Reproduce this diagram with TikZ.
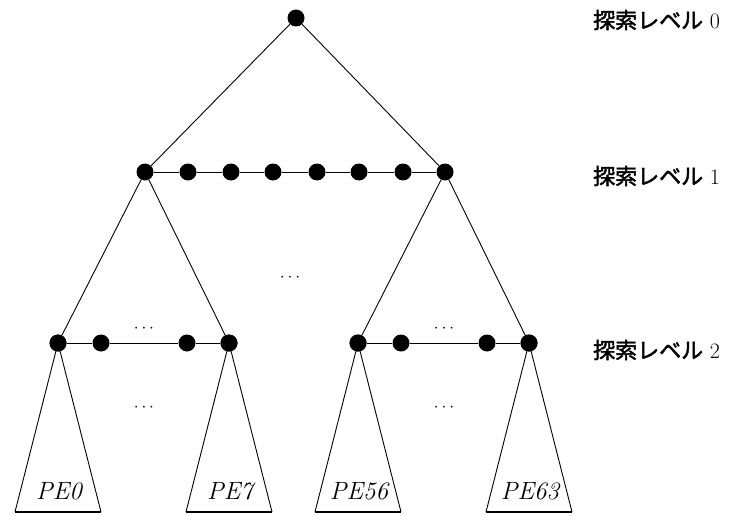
\documentclass[tikz,border=0pt]{standalone}
\usepackage{fontspec}
\newfontfamily\cjk[FakeBold=2]{Noto Sans CJK JP}
\usepackage{tikz}
\usetikzlibrary{positioning}

\begin{document}
\begin{tikzpicture}[x=1pt, y=-1pt,
    pe/.style={circle, fill=black, inner sep=0pt, minimum size=17pt},
    edge/.style={draw=black, line width=0.9pt},
    base/.style={draw=black, line width=2pt},
    pelabel/.style={font=\fontsize{25}{28}\selectfont\itshape, inner sep=0pt},
    dots/.style={font=\fontsize{18}{20}\selectfont, inner sep=0pt},
    level/.style={anchor=west, inner sep=0pt, font=\fontsize{22}{26}\selectfont}
]
    \useasboundingbox (0,0) rectangle (730,516);

    % Search level 0
    \node[pe] (R) at (296, 18) {};

    % Search level 1
    \node[pe] (A1) at (145, 172) {};
    \node[pe] (A2) at (188, 172) {};
    \node[pe] (A3) at (231, 172) {};
    \node[pe] (A4) at (273, 172) {};
    \node[pe] (A5) at (317, 172) {};
    \node[pe] (A6) at (359, 172) {};
    \node[pe] (A7) at (403, 172) {};
    \node[pe] (A8) at (445, 172) {};

    % Search level 2 (left group)
    \node[pe] (B1) at ( 58, 343) {};
    \node[pe] (B2) at (101, 343) {};
    \node[pe] (B3) at (187, 343) {};
    \node[pe] (B4) at (229, 343) {};

    % Search level 2 (right group)
    \node[pe] (C1) at (358, 343) {};
    \node[pe] (C2) at (401, 343) {};
    \node[pe] (C3) at (487, 343) {};
    \node[pe] (C4) at (529, 343) {};

    % Triangle base corners
    \coordinate (T1l) at ( 15, 512); \coordinate (T1r) at (101, 512);
    \coordinate (T2l) at (186, 512); \coordinate (T2r) at (272, 512);
    \coordinate (T3l) at (315, 512); \coordinate (T3r) at (401, 512);
    \coordinate (T4l) at (486, 512); \coordinate (T4r) at (572, 512);

    % Tree edges
    \draw[edge] (R) -- (A1);
    \draw[edge] (R) -- (A8);
    \draw[edge] (A1) -- (B1);
    \draw[edge] (A1) -- (B4);
    \draw[edge] (A8) -- (C1);
    \draw[edge] (A8) -- (C4);

    % Chains
    \draw[edge] (A1) -- (A2) -- (A3) -- (A4) -- (A5) -- (A6) -- (A7) -- (A8);
    \draw[edge] (B1) -- (B2) -- (B3) -- (B4);
    \draw[edge] (C1) -- (C2) -- (C3) -- (C4);

    % Subtrees
    \draw[edge] (T1l) -- (B1.center) -- (T1r);
    \draw[edge] (T2l) -- (B4.center) -- (T2r);
    \draw[edge] (T3l) -- (C1.center) -- (T3r);
    \draw[edge] (T4l) -- (C4.center) -- (T4r);
    \draw[base] (T1l) -- (T1r);
    \draw[base] (T2l) -- (T2r);
    \draw[base] (T3l) -- (T3r);
    \draw[base] (T4l) -- (T4r);
    \node[pe] at (B1) {};
    \node[pe] at (B4) {};
    \node[pe] at (C1) {};
    \node[pe] at (C4) {};

    % PE labels
    \node[pelabel] (P0)  at ( 59, 491) {PE0};
    \node[pelabel] (P7)  at (230, 491) {PE7};
    \node[pelabel] (P56) at (359, 491) {PE56};
    \node[pelabel] (P63) at (530, 491) {PE63};

    % Ellipses
    \node[dots] (D1) at (144, 329) {$\cdots$};
    \node[dots] (D2) at (144, 408) {$\cdots$};
    \node[dots] (D3) at (290, 278) {$\cdots$};
    \node[dots] (D4) at (444, 329) {$\cdots$};
    \node[dots] (D5) at (444, 408) {$\cdots$};

    % Level labels
    \node[level] (L0) at (593,  20) {{\cjk 探索レベル}\ 0};
    \node[level] (L1) at (593, 176) {{\cjk 探索レベル}\ 1};
    \node[level] (L2) at (593, 350) {{\cjk 探索レベル}\ 2};
\end{tikzpicture}
\end{document}
